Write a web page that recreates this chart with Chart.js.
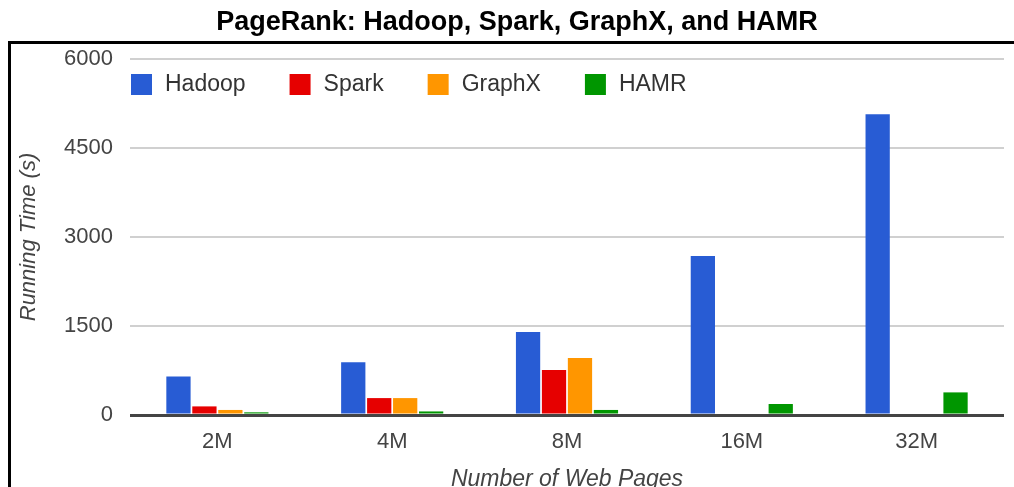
<!DOCTYPE html>
<html>
<head>
<meta charset="utf-8">
<script src="https://cdn.jsdelivr.net/npm/chart.js@4/dist/chart.umd.min.js"></script>
<style>
  html, body { margin: 0; padding: 0; background: #fff; }
  #wrap { position: relative; width: 1014px; height: 487px; overflow: hidden; }
</style>
</head>
<body>
<div id="wrap"><canvas id="pageRankChart" width="1014" height="487"></canvas></div>
<script>
// values
const pageCounts = ["2M", "4M", "8M", "16M", "32M"];
const hadoopTimes = [650, 890, 1400, 2680, 5070];
const sparkTimes = [145, 285, 760, null, null];
const graphxTimes = [85, 285, 960, null, null];
const hamrTimes = [45, 60, 85, 185, 381];
const yTicks = [0, 1500, 3000, 4500, 6000];

const seriesNames = ["Hadoop", "Spark", "GraphX", "HAMR"];
const seriesColors = ["#285cd4", "#e60000", "#ff9600", "#009600"];
const seriesValues = [hadoopTimes, sparkTimes, graphxTimes, hamrTimes];

// black frame round the chart, like the original figure
const framePlugin = {
    id: "frame",
    afterDraw(chart) {
        const ctx = chart.ctx;
        ctx.save();
        ctx.strokeStyle = "#000";
        ctx.lineWidth = 3;
        ctx.beginPath();
        ctx.moveTo(9.5, 490);
        ctx.lineTo(9.5, 42.5);
        ctx.lineTo(1020, 42.5);
        ctx.stroke();
        ctx.restore();
    }
};

// legend sits inside the plot area, so draw it by hand
const insideLegend = {
    id: "insideLegend",
    afterDatasetsDraw(chart) {
        const ctx = chart.ctx;
        const area = chart.chartArea;
        let x = area.left + 1;
        const y = 84;
        ctx.save();
        ctx.font = "23px 'Liberation Sans', Arial, sans-serif";
        ctx.textBaseline = "middle";
        chart.data.datasets.forEach(ds => {
            ctx.fillStyle = ds.backgroundColor;
            ctx.fillRect(x, y - 10, 21, 21);
            ctx.fillStyle = "#333";
            ctx.fillText(ds.label, x + 34, y + 1);
            x += 34 + ctx.measureText(ds.label).width + 44;
        });
        ctx.restore();
    }
};

new Chart(document.getElementById("pageRankChart"), {
    type: "bar",
    data: {
        labels: pageCounts,
        datasets: seriesNames.map((name, i) => ({
            label: name,
            data: seriesValues[i],
            backgroundColor: seriesColors[i],
            borderWidth: 0,
            categoryPercentage: 0.594,
            barPercentage: 0.935
        }))
    },
    options: {
        responsive: false,
        animation: false,
        layout: { padding: { left: 30, right: 10, top: 0, bottom: 0 } },
        plugins: {
            legend: { display: false },
            tooltip: { enabled: false },
            title: {
                display: true,
                text: "PageRank: Hadoop, Spark, GraphX, and HAMR",
                color: "#000",
                font: { family: "'Liberation Sans', Arial, sans-serif", size: 27, weight: "bold", lineHeight: 1 },
                padding: { top: 9, bottom: 23 }
            }
        },
        scales: {
            x: {
                grid: { display: false, drawTicks: false },
                border: { display: false },
                ticks: {
                    color: "#444",
                    padding: 14,
                    font: { family: "'Liberation Sans', Arial, sans-serif", size: 22 }
                },
                title: {
                    display: true,
                    text: "Number of Web Pages",
                    color: "#444",
                    padding: 0,
                    font: { family: "'Liberation Sans', Arial, sans-serif", size: 23, style: "italic", lineHeight: 0.65 }
                },
                afterFit(scale) { scale.height = 72; }
            },
            y: {
                min: 0,
                max: 6000,
                afterBuildTicks(scale) { scale.ticks = yTicks.map(v => ({ value: v })); },
                grid: {
                    drawTicks: false,
                    color: c => c.tick && c.tick.value === 0 ? "#444" : "#d0d0d0",
                    lineWidth: c => c.tick && c.tick.value === 0 ? 3 : 2
                },
                border: { display: false },
                ticks: {
                    color: "#444",
                    padding: 17,
                    font: { family: "'Liberation Sans', Arial, sans-serif", size: 22 },
                    callback: v => String(v)
                },
                title: {
                    display: true,
                    text: "Running Time (s)",
                    color: "#444",
                    padding: { top: -12, bottom: 0 },
                    font: { family: "'Liberation Sans', Arial, sans-serif", size: 22, style: "italic", lineHeight: 1 }
                },
                afterFit(scale) { scale.width = 100; }
            }
        }
    },
    plugins: [framePlugin, insideLegend]
});
</script>
</body>
</html>
